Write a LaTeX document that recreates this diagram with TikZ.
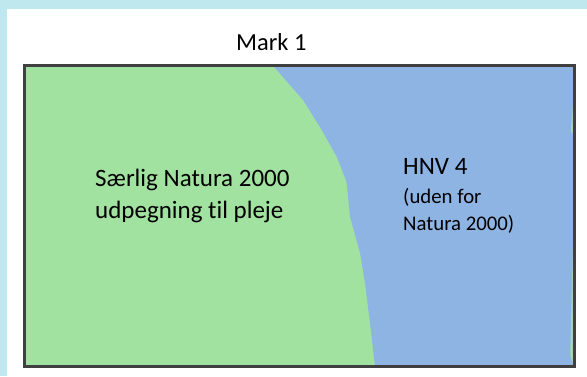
\documentclass[tikz,border=0pt]{standalone}
\usepackage{fontspec}
\setmainfont{Carlito}[Ligatures={NoCommon}]
\definecolor{framecyan}{HTML}{BEE8EE}
\definecolor{fieldgreen}{HTML}{A2E2A0}
\definecolor{hnvblue}{HTML}{8EB4E3}
\definecolor{edgegray}{HTML}{404040}
\begin{document}
\begin{tikzpicture}[
  x=1pt, y=-1pt,
  every node/.style={inner sep=0pt, align=left, text=black},
  title/.style={font=\fontsize{24.5}{30}\selectfont, anchor=base west},
  bigtext/.style={font=\fontsize{25}{32}\selectfont, anchor=base west},
  smalltext/.style={font=\fontsize{20.8}{26.7}\selectfont, anchor=base west},
  border/.style={draw=edgegray, line width=3.6pt}
]
\useasboundingbox (0,0) rectangle (587,376);

% background and frame bands
\fill[white] (0,0) rectangle (587,376);
\fill[framecyan] (0,0) rectangle (587,8.5);
\fill[framecyan] (0,0) rectangle (6.7,376);

% field areas
\fill[fieldgreen] (24.5,65.3) rectangle (574.5,366.5);
\fill[hnvblue] (272.7,65.3) -- (303,100) -- (321.7,130) -- (336.7,156.7)
  -- (345,178) -- (346.7,183) -- (350,216.7) -- (360,253) -- (365,283)
  -- (370,323) -- (375,366.5) -- (574.5,366.5) -- (574.5,65.3) -- cycle;
\fill[fieldgreen] (572.7,108) -- (570.8,131) -- (572.7,134) -- cycle;
\fill[fieldgreen] (572.7,250) -- (570.3,355) -- (572.7,364) -- cycle;
\draw[border] (24.5,65.3) rectangle (574.5,366.5);

% labels
\node[title] (mark) at (236,50) {Mark 1};
\node[bigtext] (natura1) at (95,186) {Særlig Natura 2000};
\node[bigtext] (natura2) at (95,218.3) {udpegning til pleje};
\node[bigtext] (hnv) at (403,174) {HNV 4};
\node[smalltext] (uden1) at (403,203.3) {(uden for};
\node[smalltext] (uden2) at (403,230) {Natura 2000)};
\end{tikzpicture}
\end{document}
